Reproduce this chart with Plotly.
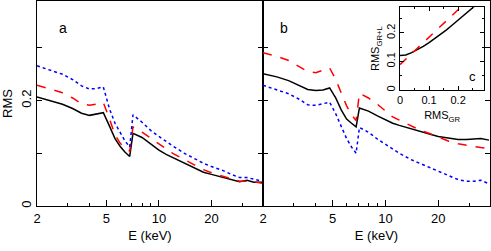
import plotly.graph_objects as go

energy = [2.0, 2.4, 2.8, 3.2, 3.6, 4.0, 4.4, 4.8, 5.2, 5.6, 6.0, 6.4, 6.8, 7.1,
          8.0, 9.0, 10, 11, 12, 14, 16, 18, 20, 23, 26, 29, 32, 35, 39]

a_black = [0.207, 0.200, 0.193, 0.185, 0.176, 0.172, 0.174, 0.177, 0.152, 0.128, 0.113, 0.102, 0.094, 0.138,
           0.130, 0.117, 0.106, 0.098, 0.092, 0.082, 0.072, 0.064, 0.060, 0.055, 0.050, 0.046, 0.049, 0.045, 0.045]
a_red = [0.229, 0.222, 0.215, 0.205, 0.194, 0.191, 0.193, 0.196, 0.166, 0.135, 0.119, 0.110, 0.104, 0.150,
         0.140, 0.128, 0.117, 0.108, 0.100, 0.088, 0.078, 0.069, 0.063, 0.057, 0.051, 0.047, 0.047, 0.046, 0.043]
a_blue = [0.266, 0.258, 0.250, 0.240, 0.228, 0.222, 0.223, 0.226, 0.185, 0.157, 0.138, 0.123, 0.112, 0.173,
          0.159, 0.143, 0.132, 0.122, 0.114, 0.100, 0.090, 0.081, 0.075, 0.068, 0.060, 0.054, 0.054, 0.051, 0.047]

b_black = [0.251, 0.245, 0.238, 0.229, 0.221, 0.219, 0.220, 0.224, 0.205, 0.182, 0.165, 0.157, 0.150, 0.186,
           0.180, 0.171, 0.163, 0.157, 0.153, 0.146, 0.140, 0.136, 0.132, 0.129, 0.126, 0.126, 0.127, 0.128, 0.125]
b_red = [0.291, 0.284, 0.276, 0.265, 0.255, 0.253, 0.257, 0.262, 0.240, 0.213, 0.190, 0.173, 0.162, 0.214,
         0.205, 0.193, 0.180, 0.169, 0.163, 0.152, 0.143, 0.137, 0.131, 0.123, 0.118, 0.116, 0.113, 0.111, 0.109]
b_blue = [0.229, 0.221, 0.213, 0.203, 0.192, 0.191, 0.194, 0.197, 0.175, 0.150, 0.128, 0.112, 0.100, 0.149,
          0.140, 0.127, 0.117, 0.108, 0.100, 0.088, 0.080, 0.073, 0.067, 0.058, 0.050, 0.047, 0.047, 0.049, 0.042]

c_black_x = [0.0, 0.02, 0.04, 0.06, 0.08, 0.10, 0.12, 0.14, 0.16, 0.18, 0.20, 0.22, 0.24, 0.26]
c_black_y = [0.121, 0.123, 0.131, 0.141, 0.153, 0.166, 0.180, 0.195, 0.211, 0.228, 0.245, 0.263, 0.281, 0.297]
c_red_x = [0.0, 0.05, 0.10, 0.15, 0.20, 0.215]
c_red_y = [0.089, 0.137, 0.185, 0.234, 0.282, 0.296]

x_ticks = [2, 5, 10, 20]
x_minor = [3, 4, 6, 7, 8, 9, 30]
y_ticks = [0, 0.2]
y_minor = [0.1, 0.3]
inset_ticks = [0, 0.1, 0.2]

FONT = "Liberation Sans, Arial, sans-serif"
styles = [("black", "solid"), ("red", "dash"), ("blue", "dot")]

fig = go.Figure()
for (xa, ya), series in [(("x", "y"), [a_black, a_red, a_blue]), (("x2", "y2"), [b_black, b_red, b_blue])]:
    for vals, (col, dash) in zip(series, styles):
        fig.add_trace(go.Scatter(x=energy, y=vals, mode="lines", xaxis=xa, yaxis=ya,
                                 line=dict(color=col, dash=dash, width=1.5), showlegend=False))
fig.add_trace(go.Scatter(x=c_black_x, y=c_black_y, mode="lines", xaxis="x3", yaxis="y3",
                         line=dict(color="black", width=1.5), showlegend=False))
fig.add_trace(go.Scatter(x=c_red_x, y=c_red_y, mode="lines", xaxis="x3", yaxis="y3",
                         line=dict(color="red", dash="dash", width=1.5), showlegend=False))

split = (263 - 37) / (490 - 37)
xcommon = dict(type="log", range=[0.30103, 1.5966], showgrid=False, zeroline=False,
               showline=True, linecolor="black", linewidth=1, mirror=True,
               ticks="inside", ticklen=6, tickcolor="black",
               tickvals=x_ticks, ticktext=[str(t) for t in x_ticks],
               minor=dict(tickvals=x_minor, ticks="inside", ticklen=3, tickcolor="black"),
               tickfont=dict(size=13, color="black", family=FONT),
               title=dict(text="E (keV)", font=dict(size=13, color="black", family=FONT), standoff=6))
ycommon = dict(range=[0, 0.389], showgrid=False, zeroline=False,
               showline=True, linecolor="black", linewidth=1, mirror="allticks",
               ticks="inside", ticklen=5, tickcolor="black",
               tickvals=y_ticks, ticktext=[str(t) for t in y_ticks], tickangle=-90,
               minor=dict(tickvals=y_minor, ticks="inside", ticklen=5, tickcolor="black"),
               tickfont=dict(size=13, color="black", family=FONT))

inset_axis = dict(range=[0, 0.29], showgrid=False, zeroline=False, showline=True,
                  linecolor="black", linewidth=1, mirror="allticks", ticks="inside", ticklen=4,
                  tickcolor="black", tickvals=inset_ticks, ticktext=[str(t) for t in inset_ticks],
                  minor=dict(dtick=0.05, ticks="inside", ticklen=2, tickcolor="black"),
                  tickfont=dict(size=11, color="black", family=FONT))

fig.update_layout(
    width=491, height=251,
    margin=dict(l=37, r=1, t=1, b=45),
    paper_bgcolor="white", plot_bgcolor="white",
    xaxis=dict(domain=[0, split], anchor="y", **xcommon),
    xaxis2=dict(domain=[split, 1], anchor="y2", **xcommon),
    yaxis=dict(domain=[0, 1], anchor="x",
               title=dict(text="RMS", font=dict(size=13, color="black", family=FONT), standoff=6),
               **ycommon),
    yaxis2=dict(domain=[0, 1], anchor="x2", showticklabels=False, **ycommon),
    xaxis3=dict(domain=[(400 - 37) / 453, (484.3 - 37) / 453], anchor="y3",
                title=dict(text="RMS<sub>GR</sub>", font=dict(size=11, color="black", family=FONT), standoff=6),
                **inset_axis),
    yaxis3=dict(domain=[(206 - 90) / 205, (206 - 7.3) / 205], anchor="x3", tickangle=-90,
                title=dict(text="RMS<sub>GR+L</sub>", font=dict(size=11, color="black", family=FONT), standoff=2),
                **inset_axis),
    annotations=[
        dict(text="a", x=0.044, y=0.917, xref="paper", yref="paper", showarrow=False,
             font=dict(size=14, color="black", family=FONT)),
        dict(text="b", x=0.546, y=0.917, xref="paper", yref="paper", showarrow=False,
             font=dict(size=14, color="black", family=FONT)),
        dict(text="c", x=0.248, y=0.046, xref="x3", yref="y3", showarrow=False,
             font=dict(size=13, color="black", family=FONT)),
    ],
)

fig.write_html("out.html", config={"displayModeBar": False},
               post_script="document.body.style.margin='0';")
